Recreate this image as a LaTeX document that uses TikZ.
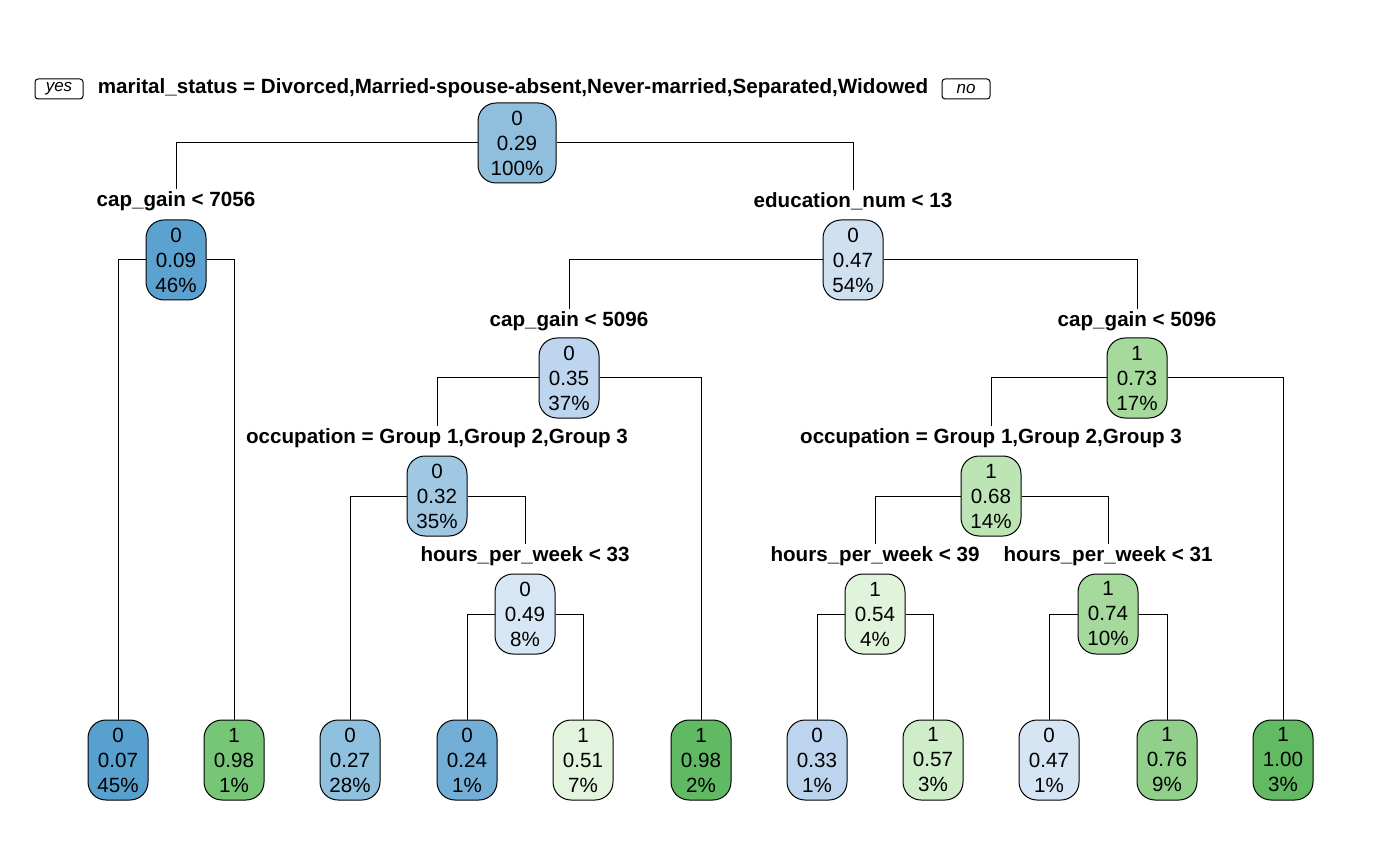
\documentclass[tikz,border=0pt]{standalone}
\usepackage{fontspec}
\setmainfont{Liberation Sans}
\definecolor{c07}{HTML}{58A0CE}
\definecolor{c09}{HTML}{5CA2D0}
\definecolor{c24}{HTML}{72AED5}
\definecolor{c27}{HTML}{8FC0DD}
\definecolor{c29}{HTML}{8FBFDC}
\definecolor{c32}{HTML}{A0C8E3}
\definecolor{c33}{HTML}{BCD4ED}
\definecolor{c35}{HTML}{BDD5EE}
\definecolor{c47a}{HTML}{CFE0F1}
\definecolor{c47b}{HTML}{D5E5F4}
\definecolor{c49}{HTML}{D7E6F4}
\definecolor{c51}{HTML}{E2F4DE}
\definecolor{c54}{HTML}{E0F3DB}
\definecolor{c57}{HTML}{CFEDC8}
\definecolor{c68}{HTML}{BCE4B5}
\definecolor{c73}{HTML}{A5DA9C}
\definecolor{c74}{HTML}{A5DA9C}
\definecolor{c76}{HTML}{90D08A}
\definecolor{c98a}{HTML}{77C678}
\definecolor{c98b}{HTML}{60B963}
\definecolor{c100}{HTML}{62BA62}
\begin{document}
\begin{tikzpicture}[x=0.5pt,y=-0.5pt,
  box/.style={draw, line width=0.5pt, rounded corners=9pt, minimum width=30pt, minimum height=40pt, inner xsep=3pt, inner ysep=2pt, align=center, font=\fontsize{10.3}{12.5}\selectfont},
  lab/.style={font=\bfseries\fontsize{10.3}{12}\selectfont, inner sep=1pt},
  edge/.style={draw, line width=0.5pt},
  tag/.style={draw, line width=0.5pt, rounded corners=1.5pt, font=\itshape\fontsize{8.5}{10}\selectfont, minimum width=24pt, minimum height=10pt, inner sep=1pt}]
\useasboundingbox (0,0) rectangle (1400,865);

% labels
\node[lab] (l1) at (513,88) {marital\_status = Divorced,Married-spouse-absent,Never-married,Separated,Widowed};
\node[tag] (yes) at (59,89) {yes};
\node[tag] (no) at (966,89) {no};
\node[lab] (l2) at (176,201) {cap\_gain < 7056};
\node[lab] (l3) at (853,201) {education\_num < 13};
\node[lab] (l4) at (569,321) {cap\_gain < 5096};
\node[lab] (l5) at (1137,321) {cap\_gain < 5096};
\node[lab] (l6) at (437,438) {occupation = Group 1,Group 2,Group 3};
\node[lab] (l8) at (991,438) {occupation = Group 1,Group 2,Group 3};
\node[lab] (l7) at (525,556) {hours\_per\_week < 33};
\node[lab] (l9) at (875,556) {hours\_per\_week < 39};
\node[lab] (l10) at (1108,556) {hours\_per\_week < 31};

% internal nodes
\node[box, fill=c29, minimum width=39pt] (n1) at (517,143) {0\\0.29\\100\%};
\node[box, fill=c09] (n2) at (176,260) {0\\0.09\\46\%};
\node[box, fill=c47a] (n3) at (853,260) {0\\0.47\\54\%};
\node[box, fill=c35] (n4) at (569,378) {0\\0.35\\37\%};
\node[box, fill=c73] (n5) at (1137,378) {1\\0.73\\17\%};
\node[box, fill=c32] (n6) at (437,496) {0\\0.32\\35\%};
\node[box, fill=c68] (n8) at (991,496) {1\\0.68\\14\%};
\node[box, fill=c49] (n7) at (525,614) {0\\0.49\\8\%};
\node[box, fill=c54] (n9) at (875,614) {1\\0.54\\4\%};
\node[box, fill=c74] (n10) at (1108,614) {1\\0.74\\10\%};

% leaves
\node[box, fill=c07] (a1) at (118,760) {0\\0.07\\45\%};
\node[box, fill=c98a] (a2) at (234,760) {1\\0.98\\1\%};
\node[box, fill=c27] (a3) at (350,760) {0\\0.27\\28\%};
\node[box, fill=c24] (a4) at (467,760) {0\\0.24\\1\%};
\node[box, fill=c51] (a5) at (583,760) {1\\0.51\\7\%};
\node[box, fill=c98b] (a6) at (701,760) {1\\0.98\\2\%};
\node[box, fill=c33] (a7) at (817,760) {0\\0.33\\1\%};
\node[box, fill=c57] (a8) at (933,760) {1\\0.57\\3\%};
\node[box, fill=c47b] (a9) at (1049,760) {0\\0.47\\1\%};
\node[box, fill=c76] (a10) at (1167,760) {1\\0.76\\9\%};
\node[box, fill=c100] (a11) at (1283,760) {1\\1.00\\3\%};

% edges
\draw[edge] (n1.west) -| (l2.north);
\draw[edge] (n1.east) -| (l3.north);
\draw[edge] (n2.west) -| (a1.north);
\draw[edge] (n2.east) -| (a2.north);
\draw[edge] (n3.west) -| (l4.north);
\draw[edge] (n3.east) -| (l5.north);
\draw[edge] (n4.west) -| (l6.north);
\draw[edge] (n4.east) -| (a6.north);
\draw[edge] (n6.west) -| (a3.north);
\draw[edge] (n6.east) -| (l7.north);
\draw[edge] (n7.west) -| (a4.north);
\draw[edge] (n7.east) -| (a5.north);
\draw[edge] (n5.west) -| (l8.north);
\draw[edge] (n5.east) -| (a11.north);
\draw[edge] (n8.west) -| (l9.north);
\draw[edge] (n8.east) -| (l10.north);
\draw[edge] (n9.west) -| (a7.north);
\draw[edge] (n9.east) -| (a8.north);
\draw[edge] (n10.west) -| (a9.north);
\draw[edge] (n10.east) -| (a10.north);
\end{tikzpicture}
\end{document}
